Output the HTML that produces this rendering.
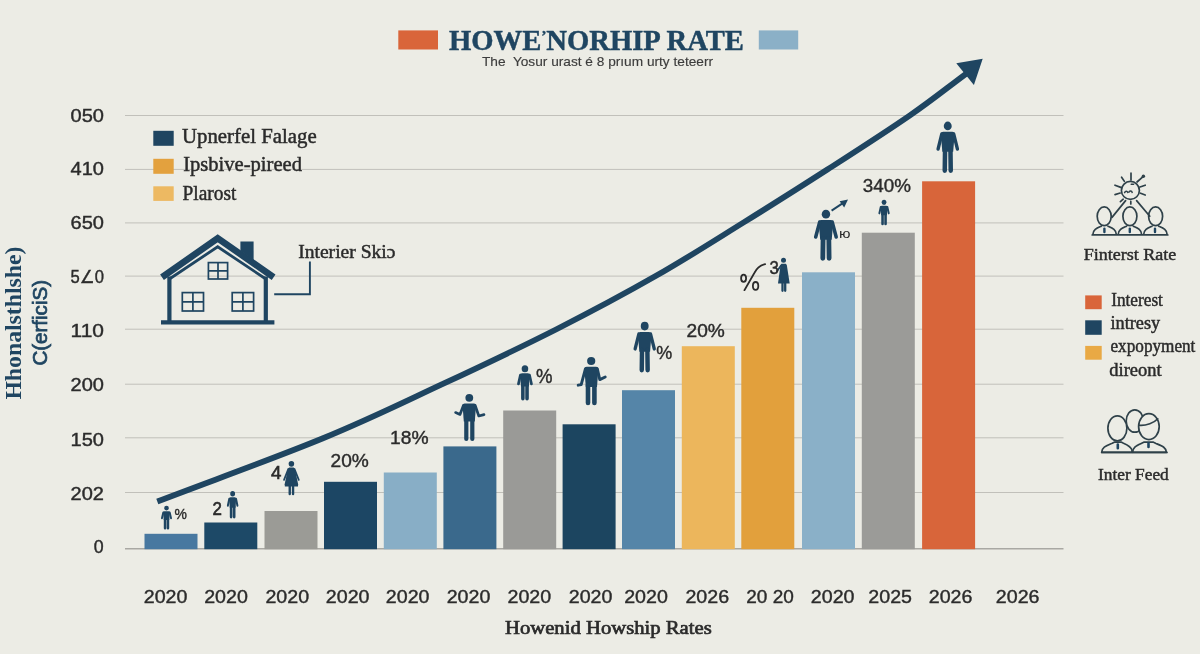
<!DOCTYPE html>
<html lang="en">
<head>
<meta charset="utf-8">
<title>Homeownership Rate</title>
<style>
html,body{margin:0;padding:0;background:#ecece5;}
body{width:1200px;height:654px;overflow:hidden;}
svg{display:block;will-change:transform;}
.sa{font-family:"DejaVu Sans", "Liberation Sans", sans-serif;stroke-width:.35px;}
.ls{font-family:"Liberation Sans", "DejaVu Sans", sans-serif;stroke-width:.4px;}
.se{font-family:"Liberation Serif", "DejaVu Serif", serif;stroke-width:.45px;}
</style>
</head>
<body>
<svg width="1200" height="654" viewBox="0 0 1200 654">
<defs>
<symbol id="man" viewBox="0 0 26 52" overflow="visible" preserveAspectRatio="none">
  <circle cx="13" cy="4.4" r="4.4"/>
  <path d="M8 10.3h10a2.6 2.6 0 0 1 2.6 2.6l-1.6 17.6h-12l-1.6-17.6a2.6 2.6 0 0 1 2.6-2.6z"/>
  <path d="M6.4 12.6L2.3 27.6M19.6 12.6L23.7 27.6" stroke-width="3.7" stroke-linecap="round" fill="none" stroke="currentColor"/>
  <path d="M10 29L9.7 49.2M16 29L16.3 49.2" stroke-width="5" stroke-linecap="round" fill="none" stroke="currentColor"/>
</symbol>
<symbol id="mansm" viewBox="0 0 26 52" overflow="visible" preserveAspectRatio="none">
  <circle cx="13" cy="5.2" r="5.2"/>
  <path d="M8.4 12h9.2a3 3 0 0 1 3 3l-1.4 16.5h-12.4l-1.4-16.5a3 3 0 0 1 3-3z"/>
  <path d="M5.8 14.8L2.8 27.6M20.2 14.8L23.2 27.6" stroke-width="4.3" stroke-linecap="round" fill="none" stroke="currentColor"/>
  <path d="M9.7 30v19.2M16.3 30v19.2" stroke-width="5.6" stroke-linecap="round" fill="none" stroke="currentColor"/>
</symbol>
<symbol id="woman" viewBox="0 0 18 36" overflow="visible" preserveAspectRatio="none">
  <circle cx="9" cy="3" r="3"/>
  <path d="M6.6 6.8h4.8l1.3 1 3.6 16.6-0.2 2.2h-14.2l-0.2-2.2 3.6-16.6z"/>
  <path d="M5.6 8.6L1 19.8M12.4 8.6L17 19.8" stroke-width="1.9" stroke-linecap="round" fill="none" stroke="currentColor"/>
  <path d="M7.2 26v8.6M10.8 26v8.6" stroke-width="2.6" stroke-linecap="round" fill="none" stroke="currentColor"/>
</symbol>
</defs>
<rect width="1200" height="654" fill="#ecece5"/>

<line x1="125" y1="115.5" x2="1063.5" y2="115.5" stroke="#c1c0ba" stroke-width="1"/>
<line x1="125" y1="169.4" x2="1063.5" y2="169.4" stroke="#c1c0ba" stroke-width="1"/>
<line x1="125" y1="222.9" x2="1063.5" y2="222.9" stroke="#c1c0ba" stroke-width="1"/>
<line x1="125" y1="276.1" x2="1063.5" y2="276.1" stroke="#c1c0ba" stroke-width="1"/>
<line x1="125" y1="329.2" x2="1063.5" y2="329.2" stroke="#c1c0ba" stroke-width="1"/>
<line x1="125" y1="384.2" x2="1063.5" y2="384.2" stroke="#c1c0ba" stroke-width="1"/>
<line x1="125" y1="437.8" x2="1063.5" y2="437.8" stroke="#c1c0ba" stroke-width="1"/>
<line x1="125" y1="492.5" x2="1063.5" y2="492.5" stroke="#c1c0ba" stroke-width="1"/>
<line x1="125" y1="548.8" x2="1063.5" y2="548.8" stroke="#a9a8a3" stroke-width="1.6"/>
<rect x="398.3" y="30.4" width="39.7" height="19.1" fill="#d9653a"/>
<rect x="758.8" y="30.4" width="39.4" height="19.1" fill="#8bb0c7"/>
<text class="se" x="449" y="49.8" font-size="29.6" fill="#1f4561" stroke="#1f4561" font-weight="bold" textLength="295" lengthAdjust="spacingAndGlyphs">HOWE<tspan font-size="15" dy="-9">&#8217;</tspan><tspan dy="9">NORHIP RATE</tspan></text>
<text class="ls" x="482" y="65.6" font-size="13" fill="#3d3d3d" stroke="#3d3d3d" textLength="231" lengthAdjust="spacingAndGlyphs" style="stroke-width:.15px">The&#160; Yosur urast &#233; 8 pr&#305;um urty teteerr</text>
<rect x="153.3" y="130.8" width="20.4" height="15" fill="#1f4561"/>
<rect x="153.3" y="158.8" width="20.4" height="15" fill="#e3a13e"/>
<rect x="153.3" y="186.3" width="20.4" height="14.6" fill="#edb962"/>
<text class="se" x="182" y="143.3" font-size="20" fill="#2b2b2b" stroke="#2b2b2b" textLength="134.7" lengthAdjust="spacingAndGlyphs">Upnerfel Falage</text>
<text class="se" x="183.2" y="171.3" font-size="20" fill="#2b2b2b" stroke="#2b2b2b" textLength="118.8" lengthAdjust="spacingAndGlyphs">Ipsbive-pireed</text>
<text class="se" x="182.5" y="199.5" font-size="20" fill="#2b2b2b" stroke="#2b2b2b" textLength="53.8" lengthAdjust="spacingAndGlyphs">Plarost</text>
<g fill="none" stroke="#1f4561">
  <path d="M162 277.2L217.7 238.3L273.6 277.2" stroke-width="6.6" stroke-linecap="butt" stroke-linejoin="miter"/>
  <path d="M169.4 279L217.7 246.8L265.8 279" stroke-width="2.8" stroke-linejoin="miter"/>
  <path d="M169.4 276.5V322M265.8 276.5V322" stroke-width="4.2"/>
  <path d="M161 322.4H274.4" stroke-width="4.4"/>
  <path d="M274.2 294.2H309.9V261.5" stroke-width="1.9"/>
  <g stroke-width="1.7">
    <rect x="208.4" y="262.6" width="19.2" height="16.4"/><path d="M218 262.6v16.4M208.4 270.8h19.2"/>
    <rect x="182.3" y="292.6" width="21.2" height="18.4"/><path d="M192.9 292.6v18.4M182.3 301.8h21.2"/>
    <rect x="232.2" y="292.6" width="21.4" height="18.4"/><path d="M242.9 292.6v18.4M232.2 301.8h21.4"/>
  </g>
</g>
<path d="M240.4 241.6h13.2v18.6l-13.2-9.4z" fill="#1f4561"/>
<text class="se" x="298.2" y="257.8" font-size="19" fill="#2b2b2b" stroke="#2b2b2b" textLength="97.3" lengthAdjust="spacingAndGlyphs">Interier Ski&#596;</text>
<rect x="144.5" y="533.8" width="53" height="15.4" fill="#4878a0"/>
<rect x="204.3" y="522.5" width="53" height="26.7" fill="#1d4967"/>
<rect x="264.5" y="511" width="53" height="38.2" fill="#9b9b96"/>
<rect x="324" y="481.8" width="53" height="67.4" fill="#1c4664"/>
<rect x="383.8" y="472.5" width="53" height="76.7" fill="#88aec6"/>
<rect x="443.4" y="446.4" width="53" height="102.8" fill="#3a698c"/>
<rect x="503.2" y="410.5" width="53" height="138.7" fill="#9a9a97"/>
<rect x="562.6" y="424.3" width="53" height="124.9" fill="#1c4560"/>
<rect x="622" y="390.2" width="53" height="159" fill="#5585a8"/>
<rect x="681.8" y="346.2" width="53" height="203" fill="#ecb65c"/>
<rect x="741.3" y="307.8" width="53" height="241.4" fill="#e2a03c"/>
<rect x="802" y="272.3" width="53" height="276.9" fill="#8ab0c8"/>
<rect x="861.8" y="232.7" width="53" height="316.5" fill="#9b9b98"/>
<rect x="922.1" y="181.3" width="53" height="367.9" fill="#d8653a"/>
<path d="M157.3 501.5C212.5 480.4 275.5 457.9 323 438.3C370.5 418.8 403.5 402.3 442.3 384.2C481.1 366.1 520.5 347.5 556 329.5C591.5 311.5 624.5 293.9 655.6 276.1C686.8 258.3 714.2 240.7 742.9 222.9C771.6 205.1 800 187.2 827.8 169.3C855.6 151.4 886.6 131.5 909.6 115.6C932.6 99.7 947.2 87.7 966 73.8" fill="none" stroke="#1f4561" stroke-width="5.8"/>
<path d="M982.7 58.8L956.3 63.2L973.9 85z" fill="#1f4561"/>
<use href="#mansm" x="160.7" y="505.7" width="11.6" height="23.8" fill="#1f4561" color="#1f4561" preserveAspectRatio="none"/>
<use href="#mansm" x="226.6" y="491" width="12.1" height="27.5" fill="#1f4561" color="#1f4561" preserveAspectRatio="none"/>
<use href="#woman" x="283.1" y="461" width="16.6" height="34.4" fill="#1f4561" color="#1f4561" preserveAspectRatio="none"/>
<use href="#mansm" x="516.7" y="365.2" width="16.5" height="35.2" fill="#1f4561" color="#1f4561" preserveAspectRatio="none"/>
<use href="#man" x="633.1" y="321.8" width="23.2" height="50.9" fill="#1f4561" color="#1f4561" preserveAspectRatio="none"/>
<g fill="#1f4561" stroke="#1f4561">
 <circle cx="783.5" cy="260.3" r="2.5" stroke="none"/>
 <path d="M781.4 263.8h4.4l1 1.2l2.9 18.6h-11.7l2.5-18.6z" stroke="none"/>
 <path d="M782.5 283v7.8M785.2 283v7.8" stroke-width="2.3" stroke-linecap="round" fill="none"/>
 <path d="M781 265.6L777 271.2" stroke-width="1.7" stroke-linecap="round" fill="none"/>
</g>
<use href="#man" x="813.5" y="209.8" width="24.9" height="51.2" fill="#1f4561" color="#1f4561" preserveAspectRatio="none"/>
<use href="#mansm" x="878.1" y="199.8" width="11.9" height="25.5" fill="#1f4561" color="#1f4561" preserveAspectRatio="none"/>
<use href="#man" x="936" y="121.6" width="23.5" height="51.6" fill="#1f4561" color="#1f4561" preserveAspectRatio="none"/>
<g fill="#1f4561" stroke="#1f4561">
 <circle cx="469.3" cy="397.8" r="3.9" stroke="none"/>
 <path d="M464.6 403.4h9.4a2 2 0 0 1 2 2l-1.2 16h-11l-1.2-16a2 2 0 0 1 2-2z" stroke="none"/>
 <path d="M466.3 420v19M472.3 420v19" stroke-width="4.2" stroke-linecap="round" fill="none"/>
 <path d="M463.4 405.5L460 414.4L455.6 412.6M475.2 405.5L478.8 416L484 414.6" stroke-width="2.7" stroke-linecap="round" stroke-linejoin="round" fill="none"/>
 <circle cx="591.2" cy="361" r="4.1" stroke="none"/>
 <path d="M586.6 366.8h9.6a2.2 2.2 0 0 1 2.2 2.2l-1.4 18h-11.2l-1.4-18a2.2 2.2 0 0 1 2.2-2.2z" stroke="none"/>
 <path d="M588 385v18M594.4 385v18" stroke-width="4.6" stroke-linecap="round" fill="none"/>
 <path d="M585.4 369L581.2 384.6L578.2 385.2M597.4 369L599.8 379.6L605.2 377" stroke-width="2.9" stroke-linecap="round" stroke-linejoin="round" fill="none"/>
</g>
<path d="M831.6 210.6L843.6 202.6" stroke="#1f4561" stroke-width="2" fill="none"/><path d="M848 199.6L839.6 201.2L844.2 207.6z" fill="#1f4561"/>
<path d="M744.5 290.1L754.4 272.9C756.4 268.8 760 265.2 765.1 264.1" stroke="#2b2b2b" stroke-width="1.9" fill="none" stroke-linecap="round"/>
<ellipse cx="743.6" cy="278.3" rx="2.5" ry="3.6" fill="none" stroke="#2b2b2b" stroke-width="1.8"/><ellipse cx="755.6" cy="285.9" rx="2.7" ry="3.9" fill="none" stroke="#2b2b2b" stroke-width="1.8"/>
<text class="ls" x="174.5" y="518.5" font-size="15.5" fill="#2b2b2b" stroke="#2b2b2b" textLength="12.4" lengthAdjust="spacingAndGlyphs">%</text>
<text class="ls" x="212.6" y="514.6" font-size="18" fill="#2b2b2b" stroke="#2b2b2b" textLength="9.4" lengthAdjust="spacingAndGlyphs" style="stroke-width:.6px">2</text>
<text class="ls" x="271" y="479.2" font-size="17.5" fill="#2b2b2b" stroke="#2b2b2b" textLength="10.4" lengthAdjust="spacingAndGlyphs" style="stroke-width:.6px">4</text>
<text class="ls" x="330.5" y="467" font-size="18.5" fill="#2b2b2b" stroke="#2b2b2b" textLength="38.3" lengthAdjust="spacingAndGlyphs">20%</text>
<text class="ls" x="390" y="444" font-size="18.5" fill="#2b2b2b" stroke="#2b2b2b" textLength="38.5" lengthAdjust="spacingAndGlyphs">18%</text>
<text class="ls" x="535.9" y="383.4" font-size="19.5" fill="#2b2b2b" stroke="#2b2b2b" textLength="16.5" lengthAdjust="spacingAndGlyphs">%</text>
<text class="ls" x="656.3" y="359.3" font-size="19" fill="#2b2b2b" stroke="#2b2b2b" textLength="16" lengthAdjust="spacingAndGlyphs">%</text>
<text class="ls" x="686.5" y="336.5" font-size="18" fill="#2b2b2b" stroke="#2b2b2b" textLength="38.3" lengthAdjust="spacingAndGlyphs">20%</text>
<text class="ls" x="769.4" y="274.4" font-size="17.5" fill="#2b2b2b" stroke="#2b2b2b" textLength="9.3" lengthAdjust="spacingAndGlyphs" style="stroke-width:.5px">3</text>
<text class="ls" x="862.8" y="191.9" font-size="19" fill="#2b2b2b" stroke="#2b2b2b" textLength="48.1" lengthAdjust="spacingAndGlyphs">340%</text>
<text class="ls" x="839" y="238" font-size="13" fill="#2b2b2b" stroke="#2b2b2b" textLength="11.5" lengthAdjust="spacingAndGlyphs" style="stroke-width:0">&#1102;</text>
<text class="ls" x="143.75" y="602.5" font-size="19" fill="#2b2b2b" stroke="#2b2b2b" textLength="43.7" lengthAdjust="spacingAndGlyphs">2020</text>
<text class="ls" x="204.2" y="602.5" font-size="19" fill="#2b2b2b" stroke="#2b2b2b" textLength="43.7" lengthAdjust="spacingAndGlyphs">2020</text>
<text class="ls" x="265.4" y="602.5" font-size="19" fill="#2b2b2b" stroke="#2b2b2b" textLength="43.7" lengthAdjust="spacingAndGlyphs">2020</text>
<text class="ls" x="325.8" y="602.5" font-size="19" fill="#2b2b2b" stroke="#2b2b2b" textLength="43.7" lengthAdjust="spacingAndGlyphs">2020</text>
<text class="ls" x="385.8" y="602.5" font-size="19" fill="#2b2b2b" stroke="#2b2b2b" textLength="43.7" lengthAdjust="spacingAndGlyphs">2020</text>
<text class="ls" x="446.7" y="602.5" font-size="19" fill="#2b2b2b" stroke="#2b2b2b" textLength="43.7" lengthAdjust="spacingAndGlyphs">2020</text>
<text class="ls" x="507.5" y="602.5" font-size="19" fill="#2b2b2b" stroke="#2b2b2b" textLength="43.7" lengthAdjust="spacingAndGlyphs">2020</text>
<text class="ls" x="568.75" y="602.5" font-size="19" fill="#2b2b2b" stroke="#2b2b2b" textLength="43.7" lengthAdjust="spacingAndGlyphs">2020</text>
<text class="ls" x="624.2" y="602.5" font-size="19" fill="#2b2b2b" stroke="#2b2b2b" textLength="43.7" lengthAdjust="spacingAndGlyphs">2020</text>
<text class="ls" x="685.4" y="602.5" font-size="19" fill="#2b2b2b" stroke="#2b2b2b" textLength="43.7" lengthAdjust="spacingAndGlyphs">2026</text>
<text class="ls" x="746.25" y="602.5" font-size="19" fill="#2b2b2b" stroke="#2b2b2b" textLength="47.5" lengthAdjust="spacingAndGlyphs">20 20</text>
<text class="ls" x="810.8" y="602.5" font-size="19" fill="#2b2b2b" stroke="#2b2b2b" textLength="43.7" lengthAdjust="spacingAndGlyphs">2020</text>
<text class="ls" x="868.3" y="602.5" font-size="19" fill="#2b2b2b" stroke="#2b2b2b" textLength="43.7" lengthAdjust="spacingAndGlyphs">2025</text>
<text class="ls" x="928.75" y="602.5" font-size="19" fill="#2b2b2b" stroke="#2b2b2b" textLength="43.7" lengthAdjust="spacingAndGlyphs">2026</text>
<text class="ls" x="995.8" y="602.5" font-size="19" fill="#2b2b2b" stroke="#2b2b2b" textLength="43.7" lengthAdjust="spacingAndGlyphs">2026</text>
<text class="se" x="505" y="634.4" font-size="19.5" fill="#2b2b2b" stroke="#2b2b2b" textLength="206.7" lengthAdjust="spacingAndGlyphs" style="stroke-width:.7px">Howenid Howship Rates</text>
<text class="ls" x="70.6" y="121.9" font-size="17.8" fill="#2b2b2b" stroke="#2b2b2b" textLength="33.4" lengthAdjust="spacingAndGlyphs">050</text>
<text class="ls" x="70.6" y="175.4" font-size="17.8" fill="#2b2b2b" stroke="#2b2b2b" textLength="33.4" lengthAdjust="spacingAndGlyphs">410</text>
<text class="ls" x="70.6" y="228.9" font-size="17.8" fill="#2b2b2b" stroke="#2b2b2b" textLength="33.4" lengthAdjust="spacingAndGlyphs">650</text>
<text class="ls" x="70.6" y="283" font-size="17.8" fill="#2b2b2b" stroke="#2b2b2b" textLength="33.4" lengthAdjust="spacingAndGlyphs">5&#8736;0</text>
<text class="ls" x="70.6" y="337" font-size="17.8" fill="#2b2b2b" stroke="#2b2b2b" textLength="33.4" lengthAdjust="spacingAndGlyphs">110</text>
<text class="ls" x="70.6" y="391.3" font-size="17.8" fill="#2b2b2b" stroke="#2b2b2b" textLength="33.4" lengthAdjust="spacingAndGlyphs">200</text>
<text class="ls" x="70.6" y="445.6" font-size="17.8" fill="#2b2b2b" stroke="#2b2b2b" textLength="33.4" lengthAdjust="spacingAndGlyphs">150</text>
<text class="ls" x="70.6" y="499.7" font-size="17.8" fill="#2b2b2b" stroke="#2b2b2b" textLength="33.4" lengthAdjust="spacingAndGlyphs">202</text>
<text class="ls" x="93.7" y="553.3" font-size="17.8" fill="#2b2b2b" stroke="#2b2b2b">0</text>
<text class="se" transform="translate(21 399.6) rotate(-90)" font-size="22.5" font-weight="bold" fill="#1f4561" stroke="none" textLength="153" lengthAdjust="spacingAndGlyphs">Hhonalsthlshe)</text>
<text class="ls" transform="translate(46.9 365.6) rotate(-90)" font-size="19.5" fill="#1f4561" stroke="#1f4561" style="stroke-width:.7px" textLength="85.6" lengthAdjust="spacingAndGlyphs">C(erficiS)</text>
<g fill="none" stroke="#2f4149" stroke-width="1.7" stroke-linecap="round" stroke-linejoin="round">
 <circle cx="1130.4" cy="190.4" r="9"/>
 <path d="M1131 173.2V180M1121.6 177.2L1124.4 181.4M1115 185.2L1120.8 187.4M1115 194.6L1120.2 193M1120.4 201.6L1123.2 199.2M1130.8 201.4V204M1140 187L1145.2 185.2M1140.6 193.2L1145.2 195M1137 182L1142.8 176.8"/>
 <path d="M1125.6 200.6L1112 217.4M1136.6 200.6L1149.8 216.2"/>
 <ellipse cx="1104.2" cy="216.3" rx="7" ry="9.4"/><ellipse cx="1129.9" cy="216.3" rx="7" ry="9.4"/><ellipse cx="1155.6" cy="216.3" rx="7" ry="9.4"/>
 <path d="M1092.8 234.8C1092.8 229.5 1097.3 227.9 1101.2 226.2M1116.4 234.8C1116.4 229.5 1111.9 227.9 1108 226.2M1118.1 234.8C1118.1 229.5 1122.6 227.9 1126.5 226.2M1141.7 234.8C1141.7 229.5 1137.2 227.9 1133.3 226.2M1143.6 234.8C1143.6 229.5 1148.1 227.9 1152 226.2M1167.2 234.8C1167.2 229.5 1162.7 227.9 1158.8 226.2M1092.2 234.9H1167.8"/>
 <path d="M1124.6 192.6c0.8-1.8 2.6-1.8 3.2-0.2M1129 192c1-1.6 2.6-1.4 3.2 0.4M1131.2 184.2h2.4" stroke-width="1.5"/>
</g>
<circle cx="1143.4" cy="176.2" r="1.7" fill="#2f4149"/>
<path d="M1104.4 228.6v3.4M1129.8 228.6v3.4M1155 228.6v3.4" stroke="#1f4561" stroke-width="2.4" stroke-linecap="round"/>
<text class="se" x="1083.7" y="260.2" font-size="17.4" fill="#2b2b2b" stroke="#2b2b2b" textLength="92.6" lengthAdjust="spacingAndGlyphs">Finterst Rate</text>
<rect x="1085.2" y="295.4" width="16.5" height="13.8" fill="#d9653a"/>
<rect x="1085.2" y="320.3" width="16.5" height="14.5" fill="#1f4561"/>
<rect x="1085.2" y="345.9" width="16.5" height="13.8" fill="#e9a944"/>
<text class="se" x="1111.2" y="305.8" font-size="18" fill="#2b2b2b" stroke="#2b2b2b" textLength="51.7" lengthAdjust="spacingAndGlyphs">Interest</text>
<text class="se" x="1110.5" y="329.1" font-size="18" fill="#2b2b2b" stroke="#2b2b2b" textLength="49.7" lengthAdjust="spacingAndGlyphs">intresy</text>
<text class="se" x="1110.5" y="352.1" font-size="18" fill="#2b2b2b" stroke="#2b2b2b" textLength="84.9" lengthAdjust="spacingAndGlyphs">expopyment</text>
<text class="se" x="1109.3" y="375.8" font-size="18" fill="#2b2b2b" stroke="#2b2b2b" textLength="52.4" lengthAdjust="spacingAndGlyphs">direont</text>
<g fill="#ecece5" stroke="#2f4149" stroke-width="1.7" stroke-linecap="round" stroke-linejoin="round">
 <ellipse cx="1134.8" cy="421" rx="8.6" ry="11.2"/>
 <path d="M1101.7 452.3c0.2-5.4 4.8-6.6 10.6-9l2.4-1.2h6.4l2.4 1.2c4.4 2 7.6 3.6 8.4 6.6l0.2 2.4z"/>
 <path d="M1132.6 452.3c0.2-4.8 3-6.2 8.6-8.8l3-1.4h8.8l3 1.4c6.2 2.6 10.2 4 10.4 8.8z"/>
 <ellipse cx="1117.4" cy="428.3" rx="9.5" ry="12.5"/>
 <ellipse cx="1148.9" cy="426.6" rx="10.3" ry="13"/>
 <path d="M1139.6 425.4c4.4 0.4 7.4-0.6 10.2-1.6c3.4-1.2 6-2.8 8-5" fill="none"/>
 <path d="M1101.7 452.4H1167" fill="none"/>
</g>
<path d="M1117.8 444.6v3.6M1148.5 443.4v3.6" stroke="#1f4561" stroke-width="2.6" stroke-linecap="round"/>
<text class="se" x="1098" y="480.3" font-size="17" fill="#2b2b2b" stroke="#2b2b2b" textLength="70.8" lengthAdjust="spacingAndGlyphs">Inter Feed</text>
</svg>
</body>
</html>
